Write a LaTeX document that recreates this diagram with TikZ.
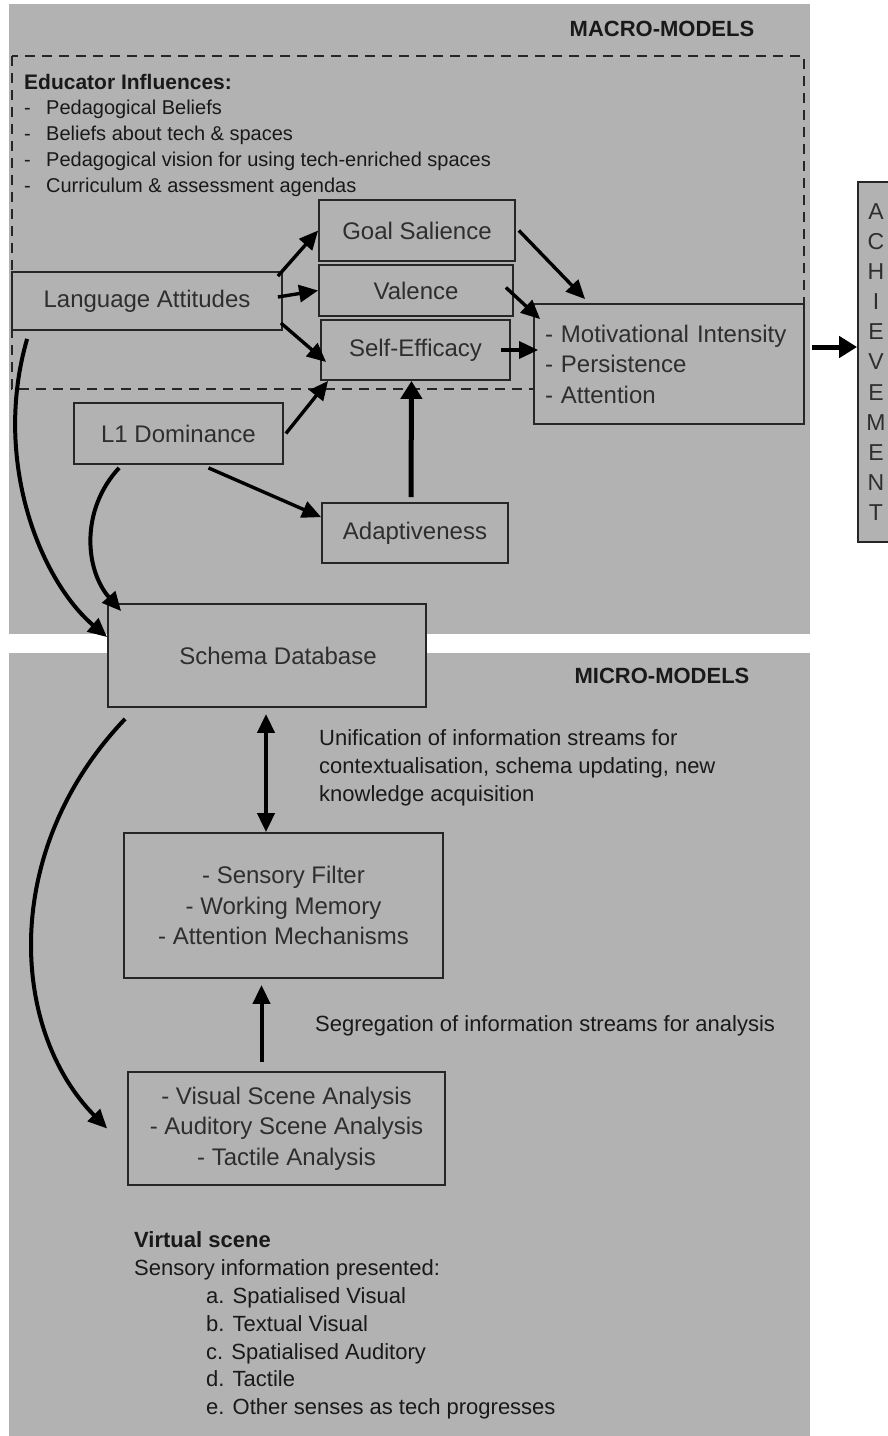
\documentclass[tikz,border=0pt]{standalone}
\usepackage{fontspec}
\setmainfont{Liberation Sans}
\usetikzlibrary{arrows.meta,calc}
\definecolor{panel}{RGB}{178,178,178}
\begin{document}
\begin{tikzpicture}[x=1pt,y=-1pt,
  box/.style={draw=black!85, line width=1.8pt, fill=panel, inner sep=0pt, text=black!82, font=\fontsize{24}{30.5}\selectfont, align=center},
  arr/.style={line width=3.4pt, -{Triangle[length=19pt,width=17pt]}},
  bigarr/.style={line width=5pt, -{Triangle[length=18pt,width=21pt]}},
  dbl/.style={line width=3.4pt, {Triangle[length=19pt,width=17pt]}-{Triangle[length=19pt,width=17pt]}},
  note/.style={inner sep=0pt, text=black!90, font=\fontsize{22}{28}\selectfont, align=left},
  hdr/.style={inner sep=0pt, text=black!90, font=\bfseries\fontsize{22}{26}\selectfont},
  dashbox/.style={draw=black!85, line width=1.7pt, dash pattern=on 10pt off 7pt},
]
\useasboundingbox (0,0) rectangle (887,1436);
\fill[white] (0,0) rectangle (887,1436);
% panels
\fill[panel] (9,4) rectangle (810,634);
\fill[panel] (9,653) rectangle (810,1440);
% educator influences dashed region
\draw[dashbox] (12,56) rectangle (804,389);

% headers
\node[hdr] (macro) at (662,29) {MACRO-MODELS};
\node[hdr] (micro) at (662,676) {MICRO-MODELS};

% educator influences
\node[inner sep=0pt, anchor=west, text=black!90, font=\bfseries\fontsize{21}{25}\selectfont] (edu) at (24,82) {Educator Influences:};
\node[inner sep=0pt, anchor=west, text=black!90, font=\fontsize{20}{26}\selectfont] (eduitems) at (24,148.5)
  {\begin{tabular}{@{}p{22pt}@{}l@{}}
   -&Pedagogical Beliefs\\
   -&Beliefs about tech \& spaces\\
   -&Pedagogical vision for using tech-enriched spaces\\
   -&Curriculum \& assessment agendas
   \end{tabular}};

% macro boxes
\node[box, minimum width=270pt, minimum height=58pt] (LA) at (147,301) {Language Attitudes};
\node[box, minimum width=196pt, minimum height=61pt] (GS) at (417,230.5) {Goal Salience};
\node[box, minimum width=194pt, minimum height=51pt] (V) at (416,290.5) {Valence};
\node[box, minimum width=189pt, minimum height=60pt] (SE) at (415.5,350) {Self-Efficacy};
\node[box, text width=248pt, inner xsep=11pt, minimum height=120pt, align=left] (Mot) at (669,364)
  {- Motivational Intensity\\- Persistence\\- Attention};
\node[box, minimum width=209pt, minimum height=61pt] (L1) at (178.5,433.5) {L1 Dominance};
\node[box, minimum width=186pt, minimum height=60pt] (Adapt) at (415,533) {Adaptiveness};
\node[box, minimum width=36pt, minimum height=360pt, font=\fontsize{23}{30.1}\selectfont] (ACH) at (876,362)
  {A\\C\\H\\I\\E\\V\\E\\M\\E\\N\\T};

% schema and micro boxes
\node[box, minimum width=318pt, minimum height=103pt] (Schema) at (267,655.5) {\hspace*{22pt}Schema Database};
\node[box, minimum width=319pt, minimum height=145pt] (Sensory) at (283.5,905.5)
  {- Sensory Filter\\- Working Memory\\- Attention Mechanisms};
\node[box, minimum width=317pt, minimum height=113pt] (VSA) at (286.5,1128.5)
  {- Visual Scene Analysis\\- Auditory Scene Analysis\\- Tactile Analysis};

% notes
\node[note, anchor=west] (unif) at (319,768)
  {Unification of information streams for\\contextualisation, schema updating, new\\knowledge acquisition};
\node[note, anchor=west] (seg) at (315,1026) {Segregation of information streams for analysis};
\node[note, anchor=west, font=\fontsize{22}{27.8}\selectfont] (virt) at (134,1325.5)
  {\textbf{Virtual scene}\\
   Sensory information presented:\\
   \hspace*{72pt}a. Spatialised Visual\\
   \hspace*{72pt}b. Textual Visual\\
   \hspace*{72pt}c. Spatialised Auditory\\
   \hspace*{72pt}d. Tactile\\
   \hspace*{72pt}e. Other senses as tech progresses};

% connectors (macro)
\draw[arr] ([xshift=-5pt,yshift=-5pt]LA.north east) -- (GS.west);
\draw[arr] ([xshift=-5pt,yshift=4pt]LA.east) -- (V.west);
\draw[arr] ([xshift=-2pt,yshift=-22pt]LA.east) -- ([xshift=6pt,yshift=-12pt]SE.west);
\draw[arr] ([xshift=3pt]GS.east) -- ([xshift=52pt,yshift=4pt]Mot.north west);
\draw[arr] ([xshift=-8pt,yshift=3pt]V.east) -- ([xshift=7pt,yshift=-16pt]Mot.north west);
\draw[arr] ([xshift=-10pt]SE.east) -- ($(SE.east -| Mot.west)+(5,0)$);
\draw[arr] ([xshift=2pt]L1.east) -- ([xshift=8pt]SE.south west);
\draw[arr] ([xshift=30pt,yshift=-3pt]L1.south) -- ([yshift=-15pt]Adapt.north west);
\draw[bigarr] ([xshift=-4pt,yshift=5pt]Adapt.north) -- ([xshift=-4pt]SE.south);
\draw[bigarr] ($(Mot.east)+(7,-17)$) -- ($(ACH.west)+(0,-15)$);
\draw[arr, line width=4pt] ($(LA.south west)+(16,8)$) .. controls (-8,460) and (40,580) .. ($(Schema.north west)+(0,34)$);
\draw[arr, line width=4pt] ($(L1.south west)+(46,3)$) .. controls (80,510) and (85,570) .. ($(Schema.north west)+(14,8)$);

% connectors (micro)
\draw[dbl, line width=4pt] ($(Schema.south)+(-1,6)$) -- ($(Schema.south |- Sensory.north)+(-1,0)$);
\draw[arr, line width=4pt] ($(VSA.north)+(-25,-9)$) -- ($(Sensory.south)+(-22,6)$);
\draw[arr, line width=4pt] ($(Schema.south west)+(18,11)$) .. controls (0,850) and (10,1030) .. ($(VSA.west)+(-20,0)$);
\end{tikzpicture}
\end{document}
